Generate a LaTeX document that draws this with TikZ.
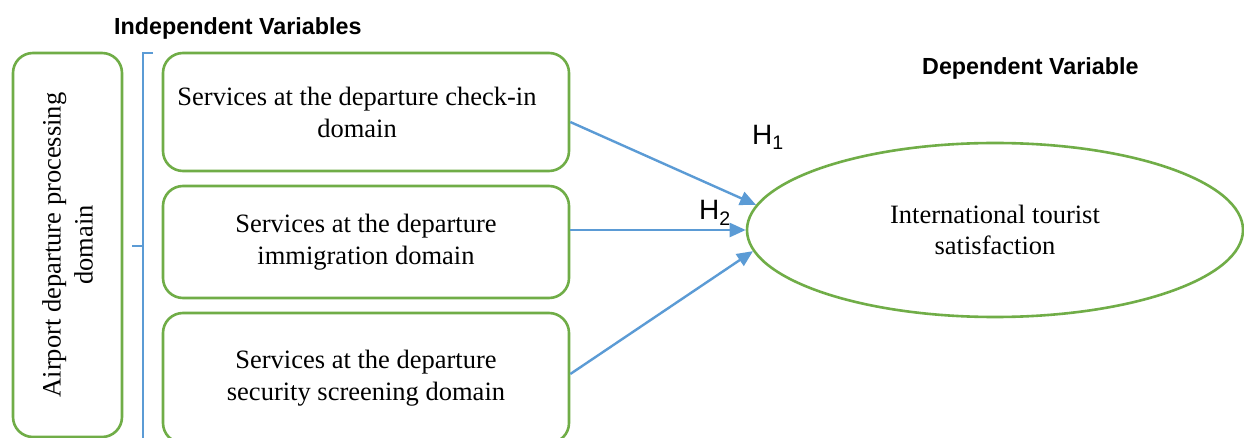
\documentclass[tikz,border=0pt]{standalone}
\usepackage{fontspec}
\setmainfont{Liberation Serif}
\newfontfamily\arialf{Liberation Sans}
\usetikzlibrary{arrows.meta,shapes.geometric,calc}
\definecolor{boxgreen}{HTML}{70AD47}
\definecolor{arrblue}{HTML}{5B9BD5}
\tikzset{
  greenbox/.style={draw=boxgreen, line width=2.6pt, rounded corners=20pt, align=center,
    inner sep=0pt, font=\fontsize{26.5}{32}\selectfont},
  ellbox/.style={draw=boxgreen, line width=2.6pt, ellipse, inner sep=0pt, align=center,
    minimum width=496pt, minimum height=174pt, font=\fontsize{26.5}{30.5}\selectfont},
  conn/.style={draw=arrblue, line width=2.4pt, -{Triangle[length=16pt,width=14pt]}},
  brace/.style={draw=arrblue, line width=1.3pt},
  headlbl/.style={anchor=base west, inner sep=0pt, font=\arialf\bfseries\fontsize{23.3}{28}\selectfont},
  hlbl/.style={anchor=base west, inner sep=0pt, font=\arialf\fontsize{28}{32}\selectfont}
}
\begin{document}
\begin{tikzpicture}[x=1pt,y=-1pt]
\clip (0,0) rectangle (1244,438);
\fill[white] (0,0) rectangle (1244,438);
% headings
\node[headlbl] (indep) at (114,35) {Independent Variables};
\node[headlbl] (dep) at (922,75) {Dependent Variable};
% left domain box
\node[greenbox, rotate=90, minimum width=384pt, minimum height=109pt] (dom) at (67.5,245)
  {Airport departure processing\\domain};
% bracket
\draw[brace] (153,53) -- (143,53) -- (143,445);
\draw[brace] (132,246) -- (143,246);
% boxes
\node[greenbox, minimum width=406pt, minimum height=118pt] (b1) at (366,112)
  {Services at the departure check-in\hspace*{18pt}\\domain\hspace*{18pt}};
\node[greenbox, minimum width=406pt, minimum height=112pt] (b2) at (366,242)
  {Services at the departure\\immigration domain};
\node[greenbox, minimum width=406pt, minimum height=130pt] (b3) at (366,378)
  {Services at the departure\\security screening domain};
% ellipse
\node[ellbox] (ell) at (995,230) {International tourist\\satisfaction};
% arrows
\draw[conn] ([yshift=-10pt]b1.east) -- (ell.174.3);
\draw[conn] ([yshift=12pt]b2.east) -- (ell.west);
\draw[conn] ([yshift=4pt]b3.east) -- (ell.185.7);
% hypothesis labels
\node[hlbl] (h1) at (752,145) {H\textsubscript{1}};
\node[hlbl] (h2) at (699,220) {H\textsubscript{2}};
\end{tikzpicture}
\end{document}
